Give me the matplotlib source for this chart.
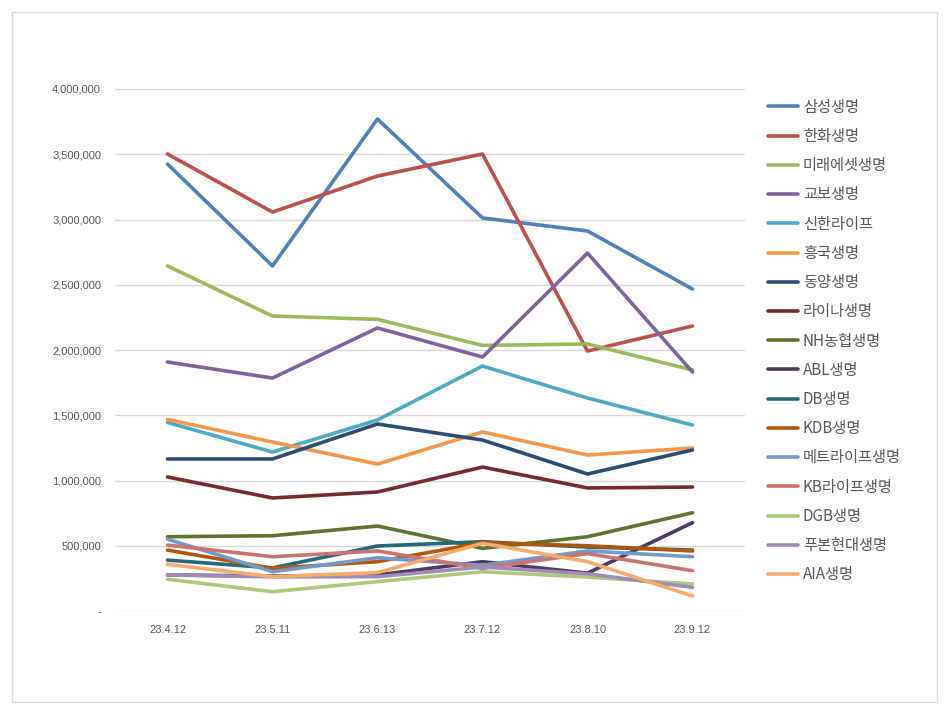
import matplotlib
matplotlib.use("Agg")
import matplotlib.pyplot as plt
from matplotlib.patches import Rectangle
from matplotlib.ticker import FuncFormatter

plt.rcParams['font.family'] = ['Noto Sans CJK KR', 'DejaVu Sans']

dates = ["23.4.12", "23.5.11", "23.6.13", "23.7.12", "23.8.10", "23.9.12"]

names = ["삼성생명", "한화생명", "미래에셋생명", "교보생명", "신한라이프", "흥국생명",
         "동양생명", "라이나생명", "NH농협생명", "ABL생명", "DB생명", "KDB생명",
         "메트라이프생명", "KB라이프생명", "DGB생명", "푸본현대생명", "AIA생명"]

samsung = [3425000, 2644000, 3770000, 3012000, 2912000, 2467000]
hanwha = [3502000, 3057000, 3333000, 3502000, 1992000, 2184000]
mirae = [2644000, 2260000, 2235000, 2035000, 2046000, 1847000]
kyobo = [1908000, 1785000, 2169000, 1946000, 2743000, 1831000]
shinhan = [1445000, 1218000, 1464000, 1877000, 1632000, 1425000]
heungkuk = [1468000, 1295000, 1126000, 1372000, 1195000, 1249000]
dongyang = [1165000, 1165000, 1433000, 1310000, 1050000, 1234000]
lina = [1027000, 866000, 912000, 1103000, 943000, 950000]
nh = [569000, 577000, 651000, 480000, 569000, 753000]
abl = [276000, 268000, 276000, 378000, 290000, 677000]
db = [390000, 330000, 498000, 531000, 490000, 467000]
kdb = [467000, 327000, 378000, 523000, 500000, 460000]
metlife = [550000, 301000, 408000, 350000, 460000, 416000]
kb = [505000, 416000, 460000, 327000, 440000, 309000]
dgb = [243000, 148000, 225000, 301000, 260000, 207000]
fubon = [276000, 262000, 263000, 337000, 285000, 181000]
aia = [358000, 263000, 294000, 519000, 378000, 115000]

series = [samsung, hanwha, mirae, kyobo, shinhan, heungkuk, dongyang, lina,
          nh, abl, db, kdb, metlife, kb, dgb, fubon, aia]
colors = ["#4F81BD", "#C0504D", "#9BBB59", "#8064A2", "#4BACC6", "#F79646",
          "#2C4D75", "#772C2A", "#5F7530", "#4D3B62", "#276A7C", "#B65708",
          "#729ACA", "#CD7371", "#AFC97A", "#A08DB7", "#F9AB6B"]

fig = plt.figure(figsize=(9.5, 7.14), dpi=100)
fig.patches.append(Rectangle((12 / 950, 12 / 714), 925 / 950, 690 / 714,
                             transform=fig.transFigure, fill=False,
                             edgecolor="#d9d9d9", linewidth=1))
ax = fig.add_axes([115 / 950, 1 - 611 / 714, 630 / 950, 522 / 714])

x = range(len(dates))
for name, vals, c in zip(names, series, colors):
    ax.plot(x, vals, color=c, linewidth=2.6, label=name, solid_capstyle="round")

ax.set_xlim(-0.5, len(dates) - 0.5)
ax.set_ylim(0, 4000000)
ax.set_yticks(range(0, 4000001, 500000))
ax.yaxis.set_major_formatter(FuncFormatter(lambda v, p: "-" if v == 0 else f"{int(v):,}"))
ax.set_xticks(list(x))
ax.set_xticklabels(dates)
ax.grid(axis="y", color="#d9d9d9", linewidth=1)
ax.set_axisbelow(True)
for s in ["top", "right", "left", "bottom"]:
    ax.spines[s].set_visible(False)
ax.tick_params(axis="both", length=0, labelsize=8, colors="#595959")
ax.tick_params(axis="y", pad=10)
ax.tick_params(axis="x", pad=10)
for lab in ax.get_xticklabels() + ax.get_yticklabels():
    lab.set_fontfamily("Liberation Sans")

leg = ax.legend(loc="upper left", bbox_to_anchor=(754 / 950, 1 - 85 / 714),
                bbox_transform=fig.transFigure, frameon=False, fontsize=11,
                handlelength=2.0, handletextpad=0.3, labelspacing=0.80)
for t in leg.get_texts():
    t.set_color("#595959")

fig.savefig("out.png", dpi=100)
